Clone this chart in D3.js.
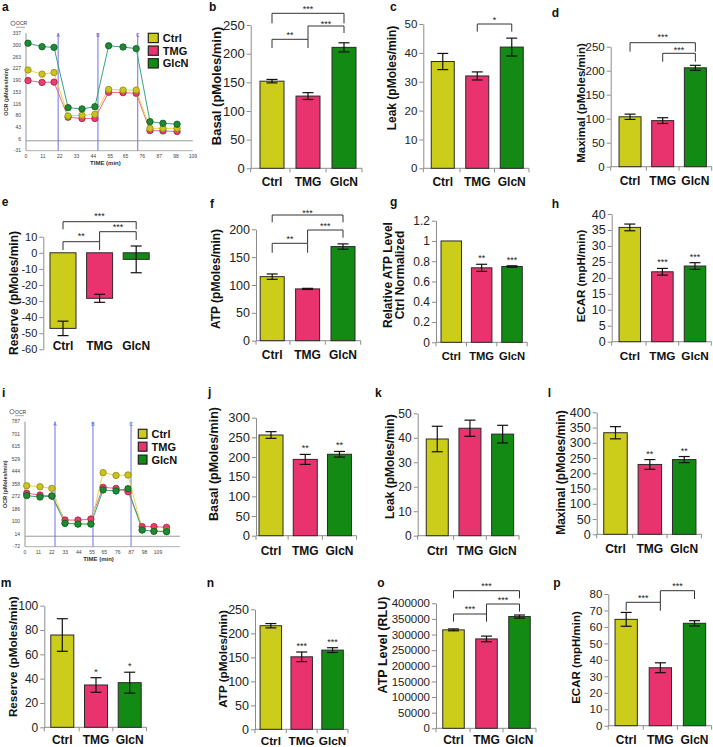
<!DOCTYPE html>
<html><head><meta charset="utf-8">
<script src="https://cdn.jsdelivr.net/npm/d3@7/dist/d3.min.js"></script>
<style>
body{margin:0;background:#fff}
svg{display:block}
text{font-family:Arial,"Liberation Sans",Helvetica,sans-serif}
</style>
</head><body>
<svg id="chart" width="713" height="747"></svg>
<script>
// ---------------- DATA ----------------
const groups = ["Ctrl", "TMG", "GlcN"];
const barColors = ["#cccc1a", "#e8336f", "#138a13"];
const lineColors = ["#e6d84c", "#ee6a8e", "#3aa37c"];
const markFill = ["#cfc21f", "#e5406e", "#1f8a36"];
const markStroke = ["#8a8a10", "#a01f48", "#0b5a20"];

// panel a: OCR time course
const timeA = [1.3, 10.5, 18.3, 27.5, 36.6, 45, 54, 63.4, 72, 81, 89.5, 98.7];
const ocrA_Ctrl = [222, 209, 214, 78, 80, 83, 161, 159, 159, 39, 39, 39];
const ocrA_TMG = [189, 183, 184, 74, 70, 70, 152, 151, 149, 32, 31, 29];
const ocrA_GlcN = [306, 295, 293, 104, 100, 107, 298, 294, 289, 60, 55, 52];
const injA = [21, 47, 73];
const ocrTicksA = [337, 300, 263, 227, 190, 153, 116, 80, 43, 6, -31];

// panel i: OCR time course
const timeI = [1.4, 12.3, 22, 32.8, 43.4, 54, 64, 74.6, 84.4, 96, 105.7, 116];
const ocrI_Ctrl = [347, 340, 329, 89, 84, 84, 437, 418, 421, 43, 36, 36];
const ocrI_TMG = [295, 283, 276, 111, 111, 118, 336, 329, 306, 66, 66, 61];
const ocrI_GlcN = [279, 269, 276, 89, 84, 84, 318, 311, 327, 43, 34, 31];
const injI = [24.6, 55.7, 86.9];
const ocrTicksI = [787, 701, 615, 529, 444, 358, 272, 186, 100, 14, -72];

const timeTicks = [0, 11, 22, 33, 44, 55, 65, 76, 87, 98, 109];
const injLabels = ["A", "B", "C"];

// bar panels (mean, error)
const basalB = [152, 126, 211], basalBErr = [3, 6, 8];
const leakC = [37, 32, 42], leakCErr = [2.8, 1.4, 3.1];
const maximalD = [104, 96, 206], maximalDErr = [5.5, 6, 5.2];
const reserveE = [-47, -28.3, -4.1], reserveEErr = [4.5, 2.5, 8.3];
const atpF = [115, 93, 169], atpFErr = [4.8, 1, 4.8];
const relAtpG = [1, 0.735, 0.748], relAtpGErr = [0, 0.035, 0.007];
const ecarH = [35.8, 21.9, 23.7], ecarHErr = [1.05, 1.05, 1.05];
const basalJ = [256, 194, 207], basalJErr = [8.5, 12.7, 7.2];
const leakK = [39.5, 43.9, 41.5], leakKErr = [5.2, 3.3, 3.6];
const maximalL = [333, 229, 245], maximalLErr = [20, 16, 10];
const reserveM = [75.9, 34.8, 36.7], reserveMErr = [13.4, 6, 8.6];
const atpN = [215.8, 151, 165], atpNErr = [4.5, 10, 5];
const atpO = [315000, 286000, 357500], atpOErr = [3000, 9000, 5000];
const ecarP = [64.6, 35.2, 62.2], ecarPErr = [4.2, 3, 1.6];

// tick labels
const ticks0to250 = [0, 50, 100, 150, 200, 250];
const ticks0to50 = [0, 10, 20, 30, 40, 50];
const ticksReserveE = [-60, -50, -40, -30, -20, -10, 0, 10];
const ticks0to200 = [0, 50, 100, 150, 200];
const ticksRel = [0, 0.2, 0.4, 0.6, 0.8, 1, 1.2];
const ticks0to40 = [0, 5, 10, 15, 20, 25, 30, 35, 40];
const ticks0to300 = [0, 50, 100, 150, 200, 250, 300];
const ticks0to400 = [0, 50, 100, 150, 200, 250, 300, 350, 400];
const ticks0to100 = [0, 20, 40, 60, 80, 100];
const ticksRLU = [0, 50000, 100000, 150000, 200000, 250000, 300000, 350000, 400000];
const ticks0to80 = [0, 10, 20, 30, 40, 50, 60, 70, 80];

// ---------------- DRAW ----------------
const svg = d3.select("#chart");
const axisColor = "#8c8c8c";

function letter(t, x, y) {
  svg.append("text").attr("x", x).attr("y", y).attr("font-size", 12)
    .attr("font-weight", "bold").attr("fill", "#111").text(t);
}

function drawBarPanel(p) {
  const g = svg.append("g");
  const tk = p.ticks;
  const y = d3.scaleLinear().domain([tk[0], tk[tk.length - 1]]).range([p.yB, p.yT]);
  const x = d3.scalePoint().domain(groups).range(p.range).padding(0.5);

  const ax = d3.axisLeft(y).tickValues(tk).tickSize(4).tickSizeOuter(0).tickPadding(2)
    .tickFormat(v => String(+v.toFixed(2)));
  const ga = g.append("g").attr("transform", `translate(${p.ax},0)`).call(ax);
  ga.select(".domain").attr("stroke", axisColor);
  ga.selectAll(".tick line").attr("stroke", axisColor);
  ga.selectAll(".tick text").attr("font-size", p.tickFs).attr("fill", "#222")
    .attr("font-family", "Arial, 'Liberation Sans', sans-serif");

  if (!p.noXAxis) {
    const y0 = y(0);
    const xEnd = p.range[1];
    g.append("line").attr("x1", p.ax).attr("x2", xEnd).attr("y1", y0).attr("y2", y0).attr("stroke", axisColor);
    const bx = [p.ax, (x(groups[0]) + x(groups[1])) / 2, (x(groups[1]) + x(groups[2])) / 2, xEnd];
    bx.forEach(v => g.append("line").attr("x1", v).attr("x2", v).attr("y1", y0).attr("y2", y0 + 4).attr("stroke", axisColor));
  }

  // bars
  g.selectAll("rect.bar").data(p.vals).join("rect")
    .attr("x", (d, i) => x(groups[i]) - p.bw / 2)
    .attr("y", d => Math.min(y(d), y(0)))
    .attr("width", p.bw)
    .attr("height", d => Math.abs(y(d) - y(0)))
    .attr("fill", (d, i) => barColors[i])
    .attr("stroke", "#2a2a2a").attr("stroke-width", 1);

  // error bars
  p.vals.forEach((v, i) => {
    const e = p.errs[i];
    if (!e) return;
    const cx = x(groups[i]);
    const cw = 5.5;
    g.append("line").attr("x1", cx).attr("x2", cx).attr("y1", y(v - e)).attr("y2", y(v + e)).attr("stroke", "#111").attr("stroke-width", 1.2);
    [v - e, v + e].forEach(t => g.append("line").attr("x1", cx - cw).attr("x2", cx + cw).attr("y1", y(t)).attr("y2", y(t)).attr("stroke", "#111").attr("stroke-width", 1.2));
  });

  // category labels
  const ly = p.labelY !== undefined ? p.labelY : y(0) + (p.labelDy || 18);
  groups.forEach(gn => g.append("text").attr("x", x(gn)).attr("y", ly).attr("text-anchor", "middle")
    .attr("font-size", p.catFs || 12).attr("font-weight", "bold").attr("fill", "#111").text(gn));

  // y title
  p.title.forEach((t, k) => {
    g.append("text").attr("transform", `translate(${p.tx[k]},${p.ty}) rotate(-90)`)
      .attr("text-anchor", "middle").attr("dominant-baseline", "central")
      .attr("font-size", p.titleFs).attr("font-weight", "bold").attr("fill", "#111").text(t);
  });

  // significance brackets
  (p.brackets || []).forEach(b => {
    const xa = x(groups[b.a]), xb = x(groups[b.b]);
    g.append("path").attr("d", `M${xa},${b.l}V${b.top}H${xb}V${b.r}`)
      .attr("fill", "none").attr("stroke", "#333").attr("stroke-width", 1);
    g.append("text").attr("x", (xa + xb) / 2).attr("y", b.sy + 5).attr("text-anchor", "middle")
      .attr("font-size", 9).attr("fill", "#222").text(b.t);
  });

  // single stars above bars
  (p.stars || []).forEach((s, i) => {
    if (!s) return;
    const top = y(p.vals[i] + p.errs[i]);
    g.append("text").attr("x", x(groups[i])).attr("y", top - 8 + 5).attr("text-anchor", "middle")
      .attr("font-size", 9).attr("fill", "#222").text(s);
  });

  letter(p.letter, p.lx, p.ly);
}

function drawTimePanel(p) {
  const g = svg.append("g");
  const tk = p.ticks;
  const x = d3.scaleLinear().domain([0, 98]).range(p.xr);
  const y = d3.scaleLinear().domain([tk[tk.length - 1], tk[0]]).range([p.yb, p.yt]);
  const yTop = y(tk[0]), yBot = y(tk[tk.length - 1]);
  const xEnd = x(p.tMax);
  const fs = 5;

  g.append("line").attr("x1", x(0)).attr("x2", x(0)).attr("y1", yTop).attr("y2", yBot).attr("stroke", "#777").attr("stroke-width", 0.8);
  tk.forEach(v => g.append("text").attr("x", x(0) - 5).attr("y", y(v)).attr("dy", "0.35em").attr("text-anchor", "end")
    .attr("font-size", fs).attr("fill", "#444").text(v));
  g.append("line").attr("x1", x(0)).attr("x2", xEnd).attr("y1", y(0)).attr("y2", y(0)).attr("stroke", "#999").attr("stroke-width", 1);
  g.append("line").attr("x1", x(0)).attr("x2", xEnd).attr("y1", yBot).attr("y2", yBot).attr("stroke", "#999").attr("stroke-width", 0.8);
  timeTicks.forEach(t => g.append("text").attr("x", x(t)).attr("y", yBot + 7).attr("text-anchor", "middle")
    .attr("font-size", fs).attr("fill", "#444").text(t));

  p.inj.forEach((t, i) => {
    g.append("line").attr("x1", x(t)).attr("x2", x(t)).attr("y1", yTop).attr("y2", yBot).attr("stroke", "#6f6ff0").attr("stroke-width", 1);
    g.append("text").attr("x", x(t)).attr("y", yTop + 4).attr("text-anchor", "middle").attr("font-size", 5)
      .attr("fill", "#5a5ae6").text(injLabels[i]);
  });

  const line = d3.line().x((d, i) => x(p.time[i])).y(d => y(d));
  const order = [1, 0, 2];
  order.forEach(k => {
    g.append("path").attr("d", line(p.series[k])).attr("fill", "none").attr("stroke", lineColors[k]).attr("stroke-width", 1);
  });
  order.forEach(k => {
    g.selectAll(null).data(p.series[k]).join("circle")
      .attr("cx", (d, i) => x(p.time[i])).attr("cy", d => y(d)).attr("r", 3.2)
      .attr("fill", markFill[k]).attr("stroke", markStroke[k]).attr("stroke-width", 0.8);
  });

  g.append("text").attr("x", (x(0) + xEnd) / 2 - 4).attr("y", yBot + 14).attr("text-anchor", "middle")
    .attr("font-size", 6).attr("font-weight", "bold").attr("fill", "#333").text("TIME (min)");
  g.append("text").attr("transform", `translate(${x(0) - 18},${(yTop + yBot) / 2}) rotate(-90)`)
    .attr("text-anchor", "middle").attr("font-size", 5.5).attr("font-weight", "bold").attr("fill", "#333").text("OCR (pMoles/min)");
  g.append("circle").attr("cx", x(0) - 13).attr("cy", yTop - 10).attr("r", 2.2).attr("fill", "#fff").attr("stroke", "#555").attr("stroke-width", 0.7);
  g.append("text").attr("x", x(0) - 10).attr("y", yTop - 8).attr("font-size", 5).attr("fill", "#333").text("OCR");
  g.append("line").attr("x1", x(0) - 10).attr("x2", x(0) - 1).attr("y1", yTop - 6).attr("y2", yTop - 6).attr("stroke", "#555").attr("stroke-width", 0.5);

  groups.forEach((gn, k) => {
    const by = p.legY + k * p.legStep;
    g.append("rect").attr("x", p.legX).attr("y", by).attr("width", p.legW).attr("height", p.legH)
      .attr("fill", barColors[k]).attr("stroke", "#222").attr("stroke-width", 1.2);
    g.append("text").attr("x", p.legX + p.legW + 4.5).attr("y", by + p.legH / 2).attr("dy", "0.36em")
      .attr("font-size", 11).attr("font-weight", "bold").attr("fill", "#111").text(gn);
  });

  letter(p.letter, p.lx, p.ly);
}

// ----- time course panels -----
drawTimePanel({letter: "a", lx: 2, ly: 11, time: timeA, series: [ocrA_Ctrl, ocrA_TMG, ocrA_GlcN], inj: injA,
  ticks: ocrTicksA, xr: [26, 176], yb: 150.7, yt: 33.3, tMax: 109,
  legX: 148.3, legY: 33.3, legStep: 12.7, legW: 10, legH: 9.3});
drawTimePanel({letter: "i", lx: 2, ly: 397, time: timeI, series: [ocrI_Ctrl, ocrI_TMG, ocrI_GlcN], inj: injI,
  ticks: ocrTicksI, xr: [25, 144.6], yb: 546.7, yt: 421.7, tMax: 127,
  legX: 138.3, legY: 429.3, legStep: 12.9, legW: 8.7, legH: 9});

// ----- bar panels -----
const barPanels = [
  {letter: "b", lx: 209, ly: 11, vals: basalB, errs: basalBErr, ticks: ticks0to250, ax: 250.7, yB: 168.3, yT: 25,
    range: [254, 362], bw: 24, title: ["Basal (pMoles/min)"], tx: [216.5], ty: 86, tickFs: 13, titleFs: 13,
    brackets: [{a: 0, b: 2, top: 13.3, l: 23.3, r: 23.3, t: "***", sy: 7},
               {a: 0, b: 1, top: 39.3, l: 48, r: 48, t: "**", sy: 33},
               {a: 1, b: 2, top: 26, l: 39.3, r: 33, t: "***", sy: 21.7}]},
  {letter: "c", lx: 390, ly: 11, vals: leakC, errs: leakCErr, ticks: ticks0to50, ax: 423.3, yB: 168.3, yT: 24,
    range: [425.5, 529], bw: 23, title: ["Leak (pMoles/min)"], tx: [392], ty: 78, tickFs: 11.5, titleFs: 12,
    brackets: [{a: 1, b: 2, top: 24, l: 31.7, r: 31.7, t: "*", sy: 18}]},
  {letter: "d", lx: 551.7, ly: 17, vals: maximalD, errs: maximalDErr, ticks: ticks0to250, ax: 610.7, yB: 166.7, yT: 46.7,
    range: [613.7, 711.7], bw: 22, title: ["Maximal (pMoles/min)"], tx: [580.5], ty: 103, tickFs: 11.5, titleFs: 11.5,
    brackets: [{a: 0, b: 2, top: 42.7, l: 51.7, r: 51.7, t: "***", sy: 35},
               {a: 1, b: 2, top: 53.3, l: 61.7, r: 61.7, t: "***", sy: 47.7}]},
  {letter: "e", lx: 1.7, ly: 206, vals: reserveE, errs: reserveEErr, ticks: ticksReserveE, ax: 43.3, yB: 349.3, yT: 236.7,
    range: [44.7, 154.5], bw: 26, title: ["Reserve (pMoles/min)"], tx: [14], ty: 293, labelY: 350, noXAxis: true,
    tickFs: 11, titleFs: 12,
    brackets: [{a: 0, b: 2, top: 221.7, l: 229.3, r: 229.3, t: "***", sy: 214},
               {a: 0, b: 1, top: 241.7, l: 250, r: 250, t: "**", sy: 234},
               {a: 1, b: 2, top: 231.7, l: 241.7, r: 240, t: "***", sy: 225}]},
  {letter: "f", lx: 210, ly: 208, vals: atpF, errs: atpFErr, ticks: ticks0to200, ax: 256, yB: 340.7, yT: 229.3,
    range: [254.5, 360.7], bw: 24, title: ["ATP (pMoles/min)"], tx: [216], ty: 279, tickFs: 12.5, titleFs: 12,
    brackets: [{a: 0, b: 2, top: 215, l: 222.3, r: 222.3, t: "***", sy: 210.7},
               {a: 0, b: 1, top: 243.3, l: 252.7, r: 252.7, t: "**", sy: 237},
               {a: 1, b: 2, top: 230, l: 243.3, r: 237.7, t: "***", sy: 224.3}]},
  {letter: "g", lx: 390, ly: 206, vals: relAtpG, errs: relAtpGErr, ticks: ticksRel, ax: 436, yB: 342.3, yT: 220.7,
    range: [436.1, 527.2], bw: 20.5, title: ["Relative ATP Level", "Ctrl Normalized"], tx: [387.5, 400], ty: 275,
    tickFs: 12, titleFs: 12, catFs: 11.2, stars: ["", "**", "***"]},
  {letter: "h", lx: 551.7, ly: 208, vals: ecarH, errs: ecarHErr, ticks: ticks0to40, ax: 611.7, yB: 341.7, yT: 214,
    range: [613.5, 711.3], bw: 21.5, title: ["ECAR (mpH/min)"], tx: [580.5], ty: 276, tickFs: 12.5, titleFs: 11.5,
    catFs: 11.8, stars: ["", "***", "***"]},
  {letter: "j", lx: 208, ly: 396, vals: basalJ, errs: basalJErr, ticks: ticks0to300, ax: 256, yB: 535.7, yT: 417.7,
    range: [253.9, 356.6], bw: 24, title: ["Basal (pMoles/min)"], tx: [213.5], ty: 464, labelDy: 19, tickFs: 13, titleFs: 12.5,
    stars: ["", "**", "**"]},
  {letter: "k", lx: 375, ly: 397, vals: leakK, errs: leakKErr, ticks: ticks0to50, ax: 417.7, yB: 535.7, yT: 413.3,
    range: [420.9, 519], bw: 22, title: ["Leak (pMoles/min)"], tx: [390], ty: 466.7, labelDy: 19, tickFs: 12, titleFs: 12},
  {letter: "l", lx: 547.7, ly: 397, vals: maximalL, errs: maximalLErr, ticks: ticks0to400, ax: 596.7, yB: 534.3, yT: 412.3,
    range: [598.3, 701.4], bw: 23.5, title: ["Maximal (pMoles/min)"], tx: [561], ty: 472.5, labelDy: 19, tickFs: 12.5,
    titleFs: 12, stars: ["", "**", "**"]},
  {letter: "m", lx: 0.7, ly: 587, vals: reserveM, errs: reserveMErr, ticks: ticks0to100, ax: 44.3, yB: 727.3, yT: 605.7,
    range: [45.45, 146.55], bw: 23, title: ["Reserve (pMoles/min)"], tx: [12], ty: 656.7, labelDy: 17, tickFs: 12,
    titleFs: 11.7, stars: ["", "*", "*"]},
  {letter: "n", lx: 206.7, ly: 587, vals: atpN, errs: atpNErr, ticks: ticks0to250, ax: 255, yB: 729.3, yT: 609.3,
    range: [255.4, 348], bw: 21.5, title: ["ATP (pMoles/min)"], tx: [222.5], ty: 659, labelDy: 16, tickFs: 12.5,
    titleFs: 11.7, catFs: 11.8, stars: ["", "***", "***"]},
  {letter: "o", lx: 377.3, ly: 587, vals: atpO, errs: atpOErr, ticks: ticksRLU, ax: 436, yB: 728.3, yT: 603.3,
    range: [437, 536], bw: 21.5, title: ["ATP Level (RLU)"], tx: [382.5], ty: 645, tickFs: 11.5, titleFs: 12.5, labelDy: 16,
    brackets: [{a: 0, b: 2, top: 590.7, l: 598.3, r: 598.3, t: "***", sy: 584},
               {a: 0, b: 1, top: 614, l: 621.7, r: 621.7, t: "***", sy: 606.7},
               {a: 1, b: 2, top: 604, l: 614, r: 611.7, t: "***", sy: 597.7}]},
  {letter: "p", lx: 553.3, ly: 587, vals: ecarP, errs: ecarPErr, ticks: ticks0to80, ax: 608.3, yB: 725.7, yT: 594,
    range: [609.1, 711.6], bw: 22.3, title: ["ECAR (mpH/min)"], tx: [576], ty: 657.5, labelDy: 18, tickFs: 11.5, titleFs: 11.5,
    brackets: [{a: 0, b: 1, top: 602.3, l: 610.7, r: 610.7, t: "***", sy: 595.7},
               {a: 1, b: 2, top: 590.7, l: 602.3, r: 599, t: "***", sy: 584}]}
];
barPanels.forEach(drawBarPanel);
</script>
</body></html>
